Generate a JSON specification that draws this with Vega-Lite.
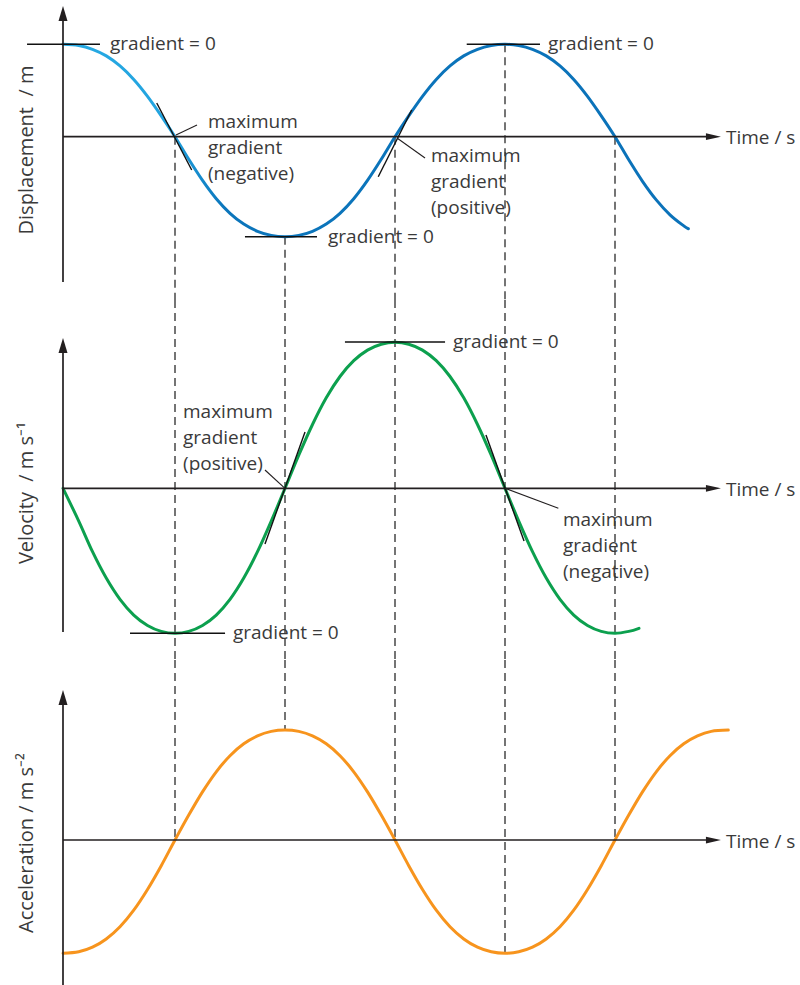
{
  "$schema": "https://vega.github.io/schema/vega-lite/v6.json",
  "padding": 0,
  "spacing": 0,
  "bounds": "flush",
  "config": {"view": {"stroke": null}},
  "datasets": {
    "disp": [
      {"t": -0.018, "v": 0.924}, {"t": 0.125, "v": 0.912}, {"t": 0.25, "v": 0.874}, {"t": 0.375, "v": 0.808}, {"t": 0.5, "v": 0.708}, {"t": 0.625, "v": 0.573}, {"t": 0.75, "v": 0.404}, {"t": 0.875, "v": 0.209},
      {"t": 1, "v": 0}, {"t": 1.125, "v": -0.226}, {"t": 1.25, "v": -0.437}, {"t": 1.375, "v": -0.62}, {"t": 1.5, "v": -0.766}, {"t": 1.625, "v": -0.874}, {"t": 1.75, "v": -0.946}, {"t": 1.875, "v": -0.987},
      {"t": 2, "v": -1.0}, {"t": 2.125, "v": -0.987}, {"t": 2.25, "v": -0.946}, {"t": 2.375, "v": -0.874}, {"t": 2.5, "v": -0.766}, {"t": 2.625, "v": -0.62}, {"t": 2.75, "v": -0.437}, {"t": 2.875, "v": -0.226},
      {"t": 3, "v": 0}, {"t": 3.125, "v": 0.209}, {"t": 3.25, "v": 0.404}, {"t": 3.375, "v": 0.573}, {"t": 3.5, "v": 0.708}, {"t": 3.625, "v": 0.808}, {"t": 3.75, "v": 0.874}, {"t": 3.875, "v": 0.912},
      {"t": 4, "v": 0.924}, {"t": 4.125, "v": 0.912}, {"t": 4.25, "v": 0.874}, {"t": 4.375, "v": 0.808}, {"t": 4.5, "v": 0.708}, {"t": 4.625, "v": 0.573}, {"t": 4.75, "v": 0.404}, {"t": 4.875, "v": 0.209},
      {"t": 5, "v": 0}, {"t": 5.125, "v": -0.231}, {"t": 5.25, "v": -0.446}, {"t": 5.375, "v": -0.632}, {"t": 5.5, "v": -0.781}, {"t": 5.625, "v": -0.892}, {"t": 5.667, "v": -0.92}
    ],
    "vel": [
      {"t": -0.018, "v": 0}, {"t": 0.125, "v": -0.328}, {"t": 0.25, "v": -0.634}, {"t": 0.375, "v": -0.898}, {"t": 0.5, "v": -1.111}, {"t": 0.625, "v": -1.268}, {"t": 0.75, "v": -1.372}, {"t": 0.875, "v": -1.431},
      {"t": 1, "v": -1.45}, {"t": 1.125, "v": -1.431}, {"t": 1.25, "v": -1.372}, {"t": 1.375, "v": -1.268}, {"t": 1.5, "v": -1.111}, {"t": 1.625, "v": -0.898}, {"t": 1.75, "v": -0.634}, {"t": 1.875, "v": -0.328},
      {"t": 2, "v": 0}, {"t": 2.125, "v": 0.331}, {"t": 2.25, "v": 0.638}, {"t": 2.375, "v": 0.905}, {"t": 2.5, "v": 1.118}, {"t": 2.625, "v": 1.276}, {"t": 2.75, "v": 1.382}, {"t": 2.875, "v": 1.441},
      {"t": 3, "v": 1.46}, {"t": 3.125, "v": 1.441}, {"t": 3.25, "v": 1.382}, {"t": 3.375, "v": 1.276}, {"t": 3.5, "v": 1.118}, {"t": 3.625, "v": 0.905}, {"t": 3.75, "v": 0.638}, {"t": 3.875, "v": 0.331},
      {"t": 4, "v": 0}, {"t": 4.125, "v": -0.328}, {"t": 4.25, "v": -0.634}, {"t": 4.375, "v": -0.898}, {"t": 4.5, "v": -1.111}, {"t": 4.625, "v": -1.268}, {"t": 4.75, "v": -1.372}, {"t": 4.875, "v": -1.431},
      {"t": 5, "v": -1.45}, {"t": 5.125, "v": -1.431}, {"t": 5.218, "v": -1.4}
    ],
    "acc": [
      {"t": -0.018, "v": -1.133}, {"t": 0.125, "v": -1.118}, {"t": 0.25, "v": -1.072}, {"t": 0.375, "v": -0.99}, {"t": 0.5, "v": -0.868}, {"t": 0.625, "v": -0.702}, {"t": 0.75, "v": -0.495}, {"t": 0.875, "v": -0.257},
      {"t": 1, "v": 0}, {"t": 1.125, "v": 0.249}, {"t": 1.25, "v": 0.481}, {"t": 1.375, "v": 0.682}, {"t": 1.5, "v": 0.843}, {"t": 1.625, "v": 0.962}, {"t": 1.75, "v": 1.041}, {"t": 1.875, "v": 1.086},
      {"t": 2, "v": 1.1}, {"t": 2.125, "v": 1.086}, {"t": 2.25, "v": 1.041}, {"t": 2.375, "v": 0.962}, {"t": 2.5, "v": 0.843}, {"t": 2.625, "v": 0.682}, {"t": 2.75, "v": 0.481}, {"t": 2.875, "v": 0.249},
      {"t": 3, "v": 0}, {"t": 3.125, "v": -0.257}, {"t": 3.25, "v": -0.495}, {"t": 3.375, "v": -0.702}, {"t": 3.5, "v": -0.868}, {"t": 3.625, "v": -0.99}, {"t": 3.75, "v": -1.072}, {"t": 3.875, "v": -1.118},
      {"t": 4, "v": -1.133}, {"t": 4.125, "v": -1.118}, {"t": 4.25, "v": -1.072}, {"t": 4.375, "v": -0.99}, {"t": 4.5, "v": -0.868}, {"t": 4.625, "v": -0.702}, {"t": 4.75, "v": -0.495}, {"t": 4.875, "v": -0.257},
      {"t": 5, "v": 0}, {"t": 5.125, "v": 0.249}, {"t": 5.25, "v": 0.481}, {"t": 5.375, "v": 0.682}, {"t": 5.5, "v": 0.843}, {"t": 5.625, "v": 0.962}, {"t": 5.75, "v": 1.041}, {"t": 5.875, "v": 1.086}, {"t": 6.03, "v": 1.099}
    ],
    "segs": [
      {"panel": 1, "kind": "axis", "t": -0.0182, "v": 1.232, "t2": -0.0182, "v2": -1.453},
      {"panel": 1, "kind": "axis", "t": -0.0182, "v": 0, "t2": 5.83, "v2": 0},
      {"panel": 1, "kind": "tangent", "t": -0.345, "v": 0.925, "t2": 0.318, "v2": 0.925},
      {"panel": 1, "kind": "tangent", "t": 0.834, "v": 0.337, "t2": 1.152, "v2": -0.333},
      {"panel": 1, "kind": "tangent", "t": 1.636, "v": -1.0, "t2": 2.291, "v2": -1.0},
      {"panel": 1, "kind": "tangent", "t": 2.848, "v": -0.4, "t2": 3.152, "v2": 0.267},
      {"panel": 1, "kind": "tangent", "t": 3.652, "v": 0.924, "t2": 4.318, "v2": 0.924},
      {"panel": 1, "kind": "leader", "t": 1.009, "v": 0.017, "t2": 1.2, "v2": 0.117},
      {"panel": 1, "kind": "leader", "t": 3.018, "v": -0.013, "t2": 3.273, "v2": -0.213},
      {"panel": 1, "kind": "dash", "t": 1, "v": 0, "t2": 1, "v2": -1.633},
      {"panel": 1, "kind": "dash", "t": 2, "v": -1.0, "t2": 2, "v2": -1.633},
      {"panel": 1, "kind": "dash", "t": 3, "v": 0, "t2": 3, "v2": -1.633},
      {"panel": 1, "kind": "dash", "t": 4, "v": 0.924, "t2": 4, "v2": -1.633},
      {"panel": 1, "kind": "dash", "t": 5, "v": 0, "t2": 5, "v2": -1.633},
      {"panel": 2, "kind": "axis", "t": -0.0182, "v": 1.428, "t2": -0.0182, "v2": -1.437},
      {"panel": 2, "kind": "axis", "t": -0.0182, "v": 0, "t2": 5.83, "v2": 0},
      {"panel": 2, "kind": "tangent", "t": 2.545, "v": 1.463, "t2": 3.455, "v2": 1.463},
      {"panel": 2, "kind": "tangent", "t": 1.818, "v": -0.557, "t2": 2.182, "v2": 0.563},
      {"panel": 2, "kind": "tangent", "t": 3.827, "v": 0.533, "t2": 4.173, "v2": -0.527},
      {"panel": 2, "kind": "tangent", "t": 0.591, "v": -1.45, "t2": 1.455, "v2": -1.45},
      {"panel": 2, "kind": "leader", "t": 1.818, "v": 0.183, "t2": 2.0, "v2": 0},
      {"panel": 2, "kind": "leader", "t": 4.0, "v": 0, "t2": 4.485, "v2": -0.2},
      {"panel": 2, "kind": "dash", "t": 1, "v": 1.883, "t2": 1, "v2": -1.717},
      {"panel": 2, "kind": "dash", "t": 2, "v": 1.883, "t2": 2, "v2": -1.717},
      {"panel": 2, "kind": "dash", "t": 3, "v": 1.883, "t2": 3, "v2": -1.717},
      {"panel": 2, "kind": "dash", "t": 4, "v": 1.883, "t2": 4, "v2": -1.717},
      {"panel": 2, "kind": "dash", "t": 5, "v": 1.883, "t2": 5, "v2": -1.717},
      {"panel": 3, "kind": "axis", "t": -0.0182, "v": 1.425, "t2": -0.0182, "v2": -1.45},
      {"panel": 3, "kind": "axis", "t": -0.0182, "v": 0, "t2": 5.83, "v2": 0},
      {"panel": 3, "kind": "dash", "t": 1, "v": 1.8, "t2": 1, "v2": 0},
      {"panel": 3, "kind": "dash", "t": 2, "v": 1.8, "t2": 2, "v2": 1.1},
      {"panel": 3, "kind": "dash", "t": 3, "v": 1.8, "t2": 3, "v2": 0},
      {"panel": 3, "kind": "dash", "t": 4, "v": 1.8, "t2": 4, "v2": -1.133},
      {"panel": 3, "kind": "dash", "t": 5, "v": 1.8, "t2": 5, "v2": 0}
    ],
    "arrows": [
      {"panel": 1, "dir": "up", "t": -0.0182, "v": 1.232},
      {"panel": 1, "dir": "right", "t": 5.895, "v": 0},
      {"panel": 2, "dir": "up", "t": -0.0182, "v": 1.428},
      {"panel": 2, "dir": "right", "t": 5.895, "v": 0},
      {"panel": 3, "dir": "up", "t": -0.0182, "v": 1.425},
      {"panel": 3, "dir": "right", "t": 5.895, "v": 0}
    ],
    "notes": [
      {"panel": 1, "label": "gradient = 0", "t": 0.409, "v": 0.867},
      {"panel": 1, "label": "maximum\ngradient\n(negative)", "t": 1.3, "v": 0.084},
      {"panel": 1, "label": "gradient = 0", "t": 2.391, "v": -1.063},
      {"panel": 1, "label": "maximum\ngradient\n(positive)", "t": 3.327, "v": -0.253},
      {"panel": 1, "label": "gradient = 0", "t": 4.391, "v": 0.867},
      {"panel": 1, "label": "Time / s", "t": 6.009, "v": -0.076},
      {"panel": 2, "label": "gradient = 0", "t": 3.527, "v": 1.403},
      {"panel": 2, "label": "maximum\ngradient\n(positive)", "t": 1.073, "v": 0.703},
      {"panel": 2, "label": "maximum\ngradient\n(negative)", "t": 4.527, "v": -0.374},
      {"panel": 2, "label": "gradient = 0", "t": 1.527, "v": -1.507},
      {"panel": 2, "label": "Time / s", "t": 6.009, "v": -0.076},
      {"panel": 3, "label": "Time / s", "t": 6.009, "v": -0.076}
    ],
    "titles": [
      {"panel": 1, "label": "Displacement\u00a0\u00a0/ m", "t": -0.291, "v": -0.133},
      {"panel": 2, "label": "Velocity\u00a0\u00a0/ m s⁻¹", "t": -0.291, "v": -0.047},
      {"panel": 3, "label": "Acceleration / m s⁻²", "t": -0.291, "v": -0.03}
    ]
  },
  "vconcat": [
    {
      "width": 800, "height": 300,
      "layer": [
        {"data": {"name": "segs"}, "transform": [{"filter": "datum.panel == 1 && datum.kind == 'dash'"}],
         "mark": {"type": "rule", "strokeDash": [8, 5], "strokeWidth": 1.4, "color": "#3a3a3a"},
         "encoding": {"x": {"field": "t", "type": "quantitative", "scale": {"domain": [-0.59091, 6.68182], "nice": false, "zero": false}, "axis": null}, "x2": {"field": "t2"},
                      "y": {"field": "v", "type": "quantitative", "scale": {"domain": [-1.633, 1.367], "nice": false, "zero": false}, "axis": null}, "y2": {"field": "v2"}}},
        {"data": {"name": "disp"},
         "mark": {"type": "line", "interpolate": "cardinal", "tension": 0, "strokeWidth": 3, "strokeCap": "round",
                  "color": {"gradient": "linear", "x1": 0, "y1": 0, "x2": 1, "y2": 0, "stops": [{"offset": 0, "color": "#27AAE3"}, {"offset": 0.17, "color": "#22A3DF"}, {"offset": 0.26, "color": "#0B75BB"}, {"offset": 1, "color": "#0B72B9"}]}},
         "encoding": {"x": {"field": "t", "type": "quantitative", "scale": {"domain": [-0.59091, 6.68182], "nice": false, "zero": false}, "axis": null},
                      "y": {"field": "v", "type": "quantitative", "scale": {"domain": [-1.633, 1.367], "nice": false, "zero": false}, "axis": null}}},
        {"data": {"name": "segs"}, "transform": [{"filter": "datum.panel == 1 && datum.kind == 'axis'"}],
         "mark": {"type": "rule", "strokeWidth": 1.7, "color": "#231F20"},
         "encoding": {"x": {"field": "t", "type": "quantitative", "axis": null}, "x2": {"field": "t2"}, "y": {"field": "v", "type": "quantitative", "axis": null}, "y2": {"field": "v2"}}},
        {"data": {"name": "segs"}, "transform": [{"filter": "datum.panel == 1 && datum.kind == 'tangent'"}],
         "mark": {"type": "rule", "strokeWidth": 1.4, "color": "#111111"},
         "encoding": {"x": {"field": "t", "type": "quantitative", "axis": null}, "x2": {"field": "t2"}, "y": {"field": "v", "type": "quantitative", "axis": null}, "y2": {"field": "v2"}}},
        {"data": {"name": "segs"}, "transform": [{"filter": "datum.panel == 1 && datum.kind == 'leader'"}],
         "mark": {"type": "rule", "strokeWidth": 1.1, "color": "#231F20"},
         "encoding": {"x": {"field": "t", "type": "quantitative", "axis": null}, "x2": {"field": "t2"}, "y": {"field": "v", "type": "quantitative", "axis": null}, "y2": {"field": "v2"}}},
        {"data": {"name": "arrows"}, "transform": [{"filter": "datum.panel == 1"}],
         "mark": {"type": "point", "filled": true, "size": 225, "opacity": 1, "strokeWidth": 0, "color": "#231F20"},
         "encoding": {"x": {"field": "t", "type": "quantitative", "axis": null}, "y": {"field": "v", "type": "quantitative", "axis": null},
                      "shape": {"field": "dir", "type": "nominal", "scale": {"domain": ["up", "right"], "range": ["M0,-1L0.6,1L-0.6,1Z", "M1,0L-1,-0.45L-1,0.45Z"]}, "legend": null}}},
        {"data": {"name": "notes"}, "transform": [{"filter": "datum.panel == 1"}],
         "mark": {"type": "text", "align": "left", "baseline": "alphabetic", "font": "Open Sans", "fontSize": 19, "fontWeight": 400, "color": "#3a3a3a", "lineBreak": "\n", "lineHeight": 26},
         "encoding": {"x": {"field": "t", "type": "quantitative", "axis": null}, "y": {"field": "v", "type": "quantitative", "axis": null}, "text": {"field": "label"}}},
        {"data": {"name": "titles"}, "transform": [{"filter": "datum.panel == 1"}],
         "mark": {"type": "text", "align": "center", "baseline": "alphabetic", "angle": 270, "font": "Open Sans", "fontSize": 20, "fontWeight": 400, "color": "#3a3a3a"},
         "encoding": {"x": {"field": "t", "type": "quantitative", "axis": null}, "y": {"field": "v", "type": "quantitative", "axis": null}, "text": {"field": "label"}}}
      ]
    },
    {
      "width": 800, "height": 360,
      "layer": [
        {"data": {"name": "segs"}, "transform": [{"filter": "datum.panel == 2 && datum.kind == 'dash'"}],
         "mark": {"type": "rule", "strokeDash": [8, 5], "strokeWidth": 1.4, "color": "#3a3a3a"},
         "encoding": {"x": {"field": "t", "type": "quantitative", "scale": {"domain": [-0.59091, 6.68182], "nice": false, "zero": false}, "axis": null}, "x2": {"field": "t2"},
                      "y": {"field": "v", "type": "quantitative", "scale": {"domain": [-1.717, 1.883], "nice": false, "zero": false}, "axis": null}, "y2": {"field": "v2"}}},
        {"data": {"name": "vel"},
         "mark": {"type": "line", "interpolate": "cardinal", "tension": 0, "strokeWidth": 3, "strokeCap": "round", "color": "#0CA04E"},
         "encoding": {"x": {"field": "t", "type": "quantitative", "scale": {"domain": [-0.59091, 6.68182], "nice": false, "zero": false}, "axis": null},
                      "y": {"field": "v", "type": "quantitative", "scale": {"domain": [-1.717, 1.883], "nice": false, "zero": false}, "axis": null}}},
        {"data": {"name": "segs"}, "transform": [{"filter": "datum.panel == 2 && datum.kind == 'axis'"}],
         "mark": {"type": "rule", "strokeWidth": 1.7, "color": "#231F20"},
         "encoding": {"x": {"field": "t", "type": "quantitative", "axis": null}, "x2": {"field": "t2"}, "y": {"field": "v", "type": "quantitative", "axis": null}, "y2": {"field": "v2"}}},
        {"data": {"name": "segs"}, "transform": [{"filter": "datum.panel == 2 && datum.kind == 'tangent'"}],
         "mark": {"type": "rule", "strokeWidth": 1.4, "color": "#111111"},
         "encoding": {"x": {"field": "t", "type": "quantitative", "axis": null}, "x2": {"field": "t2"}, "y": {"field": "v", "type": "quantitative", "axis": null}, "y2": {"field": "v2"}}},
        {"data": {"name": "segs"}, "transform": [{"filter": "datum.panel == 2 && datum.kind == 'leader'"}],
         "mark": {"type": "rule", "strokeWidth": 1.1, "color": "#231F20"},
         "encoding": {"x": {"field": "t", "type": "quantitative", "axis": null}, "x2": {"field": "t2"}, "y": {"field": "v", "type": "quantitative", "axis": null}, "y2": {"field": "v2"}}},
        {"data": {"name": "arrows"}, "transform": [{"filter": "datum.panel == 2"}],
         "mark": {"type": "point", "filled": true, "size": 225, "opacity": 1, "strokeWidth": 0, "color": "#231F20"},
         "encoding": {"x": {"field": "t", "type": "quantitative", "axis": null}, "y": {"field": "v", "type": "quantitative", "axis": null},
                      "shape": {"field": "dir", "type": "nominal", "scale": {"domain": ["up", "right"], "range": ["M0,-1L0.6,1L-0.6,1Z", "M1,0L-1,-0.45L-1,0.45Z"]}, "legend": null}}},
        {"data": {"name": "notes"}, "transform": [{"filter": "datum.panel == 2"}],
         "mark": {"type": "text", "align": "left", "baseline": "alphabetic", "font": "Open Sans", "fontSize": 19, "fontWeight": 400, "color": "#3a3a3a", "lineBreak": "\n", "lineHeight": 26},
         "encoding": {"x": {"field": "t", "type": "quantitative", "axis": null}, "y": {"field": "v", "type": "quantitative", "axis": null}, "text": {"field": "label"}}},
        {"data": {"name": "titles"}, "transform": [{"filter": "datum.panel == 2"}],
         "mark": {"type": "text", "align": "center", "baseline": "alphabetic", "angle": 270, "font": "Open Sans", "fontSize": 20, "fontWeight": 400, "color": "#3a3a3a"},
         "encoding": {"x": {"field": "t", "type": "quantitative", "axis": null}, "y": {"field": "v", "type": "quantitative", "axis": null}, "text": {"field": "label"}}}
      ]
    },
    {
      "width": 800, "height": 325,
      "layer": [
        {"data": {"name": "segs"}, "transform": [{"filter": "datum.panel == 3 && datum.kind == 'dash'"}],
         "mark": {"type": "rule", "strokeDash": [8, 5], "strokeWidth": 1.4, "color": "#3a3a3a"},
         "encoding": {"x": {"field": "t", "type": "quantitative", "scale": {"domain": [-0.59091, 6.68182], "nice": false, "zero": false}, "axis": null}, "x2": {"field": "t2"},
                      "y": {"field": "v", "type": "quantitative", "scale": {"domain": [-1.45, 1.8], "nice": false, "zero": false}, "axis": null}, "y2": {"field": "v2"}}},
        {"data": {"name": "acc"},
         "mark": {"type": "line", "interpolate": "cardinal", "tension": 0, "strokeWidth": 3, "strokeCap": "round", "color": "#F7941D"},
         "encoding": {"x": {"field": "t", "type": "quantitative", "scale": {"domain": [-0.59091, 6.68182], "nice": false, "zero": false}, "axis": null},
                      "y": {"field": "v", "type": "quantitative", "scale": {"domain": [-1.45, 1.8], "nice": false, "zero": false}, "axis": null}}},
        {"data": {"name": "segs"}, "transform": [{"filter": "datum.panel == 3 && datum.kind == 'axis'"}],
         "mark": {"type": "rule", "strokeWidth": 1.7, "color": "#231F20"},
         "encoding": {"x": {"field": "t", "type": "quantitative", "axis": null}, "x2": {"field": "t2"}, "y": {"field": "v", "type": "quantitative", "axis": null}, "y2": {"field": "v2"}}},
        {"data": {"name": "arrows"}, "transform": [{"filter": "datum.panel == 3"}],
         "mark": {"type": "point", "filled": true, "size": 225, "opacity": 1, "strokeWidth": 0, "color": "#231F20"},
         "encoding": {"x": {"field": "t", "type": "quantitative", "axis": null}, "y": {"field": "v", "type": "quantitative", "axis": null},
                      "shape": {"field": "dir", "type": "nominal", "scale": {"domain": ["up", "right"], "range": ["M0,-1L0.6,1L-0.6,1Z", "M1,0L-1,-0.45L-1,0.45Z"]}, "legend": null}}},
        {"data": {"name": "notes"}, "transform": [{"filter": "datum.panel == 3"}],
         "mark": {"type": "text", "align": "left", "baseline": "alphabetic", "font": "Open Sans", "fontSize": 19, "fontWeight": 400, "color": "#3a3a3a", "lineBreak": "\n", "lineHeight": 26},
         "encoding": {"x": {"field": "t", "type": "quantitative", "axis": null}, "y": {"field": "v", "type": "quantitative", "axis": null}, "text": {"field": "label"}}},
        {"data": {"name": "titles"}, "transform": [{"filter": "datum.panel == 3"}],
         "mark": {"type": "text", "align": "center", "baseline": "alphabetic", "angle": 270, "font": "Open Sans", "fontSize": 20, "fontWeight": 400, "color": "#3a3a3a"},
         "encoding": {"x": {"field": "t", "type": "quantitative", "axis": null}, "y": {"field": "v", "type": "quantitative", "axis": null}, "text": {"field": "label"}}}
      ]
    }
  ]
}
